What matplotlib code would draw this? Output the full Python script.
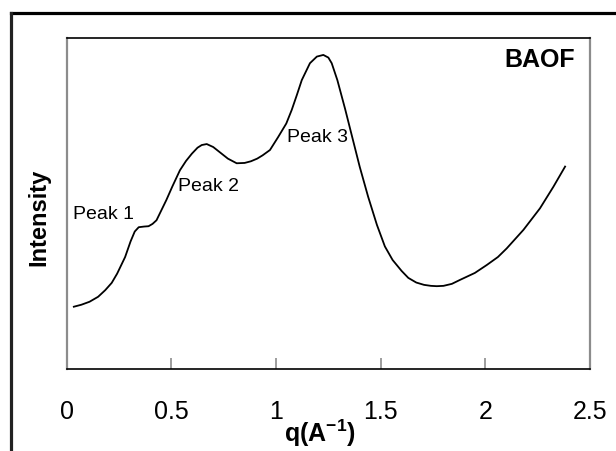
import matplotlib
matplotlib.use('Agg')
import matplotlib.pyplot as plt
from matplotlib.lines import Line2D

plt.rcParams['font.family'] = ['Liberation Sans', 'DejaVu Sans']
plt.rcParams['mathtext.fontset'] = 'custom'
plt.rcParams['mathtext.bf'] = 'Liberation Sans:bold'
plt.rcParams['mathtext.rm'] = 'Liberation Sans'

# scattering curve (intensity in arbitrary units, 0-100)
q = [0.034, 0.070, 0.109, 0.150, 0.184, 0.215, 0.241, 0.279, 0.305, 0.325,
     0.344, 0.370, 0.391, 0.410, 0.429, 0.476, 0.504, 0.541, 0.570, 0.598,
     0.625, 0.645, 0.669, 0.700, 0.730, 0.770, 0.812, 0.850, 0.880, 0.910,
     0.936, 0.971, 1.010, 1.049, 1.075, 1.100, 1.123, 1.162, 1.195, 1.226,
     1.250, 1.266, 1.293, 1.330, 1.360, 1.400, 1.440, 1.482, 1.520, 1.557,
     1.600, 1.632, 1.670, 1.707, 1.740, 1.768, 1.800, 1.840, 1.879, 1.950,
     2.007, 2.060, 2.102, 2.182, 2.261, 2.325, 2.381]
intensity = [18.8, 19.4, 20.3, 21.8, 23.8, 26.0, 28.8, 33.8, 38.5, 41.5,
             42.8, 43.0, 43.1, 43.8, 44.9, 51.0, 55.0, 60.0, 62.8, 65.0,
             66.8, 67.6, 67.9, 67.0, 65.5, 63.5, 62.1, 62.2, 62.7, 63.5,
             64.5, 66.1, 70.0, 74.1, 78.2, 82.8, 87.2, 92.3, 94.3, 94.8,
             94.0, 92.3, 87.2, 78.5, 71.0, 61.0, 52.0, 43.5, 37.0, 32.9,
             29.6, 27.5, 26.1, 25.4, 25.1, 25.0, 25.1, 25.7, 26.9, 29.0,
             31.4, 33.8, 36.4, 42.0, 48.5, 55.0, 61.1]

peak_labels = ['Peak 1', 'Peak 2', 'Peak 3']
peak_q = [0.03, 0.532, 1.052]
peak_i = [46.5, 55.1, 69.9]

xticks = [0, 0.5, 1, 1.5, 2, 2.5]

fig = plt.figure(figsize=(6.16, 4.51), dpi=100)
ax = fig.add_axes([0.1083, 0.1818, 0.8495, 0.7346])

ax.plot(q, intensity, color='black', linewidth=1.3)

for lab, x, y in zip(peak_labels, peak_q, peak_i):
    ax.text(x, y, lab, fontsize=14, ha='left', va='center')
ax.text(2.429, 93.3, 'BAOF', fontsize=18, fontweight='bold', ha='right', va='center')

ax.set_xlim(0, 2.5)
ax.set_ylim(0, 100)
ax.set_xticks(xticks)
ax.set_xticklabels(['0', '0.5', '1', '1.5', '2', '2.5'])
ax.set_yticks([])
ax.tick_params(axis='x', direction='in', length=8, width=1.2, color='#8c8c8c',
               labelsize=18, pad=22)

for side in ['left', 'right']:
    ax.spines[side].set_color('#8c8c8c')
    ax.spines[side].set_linewidth(1.6)
for side in ['top', 'bottom']:
    ax.spines[side].set_color('black')
    ax.spines[side].set_linewidth(1.2)

ax.set_xlabel(r'q(A$^{\mathbf{-1}}$)', fontsize=18, fontweight='bold')
ax.xaxis.set_label_coords(0.484, -0.148)
ax.set_ylabel('Intensity', fontsize=17, fontweight='bold')
ax.yaxis.set_label_coords(-0.032, 0.459)

# outer frame, cut by the image edge on right and bottom
fx0, fy0 = 11 / 616, 1 - 13 / 451
fig.add_artist(Line2D([fx0, 1.0], [fy0, fy0], transform=fig.transFigure,
                      color='black', linewidth=2.3))
fig.add_artist(Line2D([fx0, fx0], [fy0, 0.0], transform=fig.transFigure,
                      color='#222222', linewidth=2.3))

fig.savefig('out.png', dpi=100)
